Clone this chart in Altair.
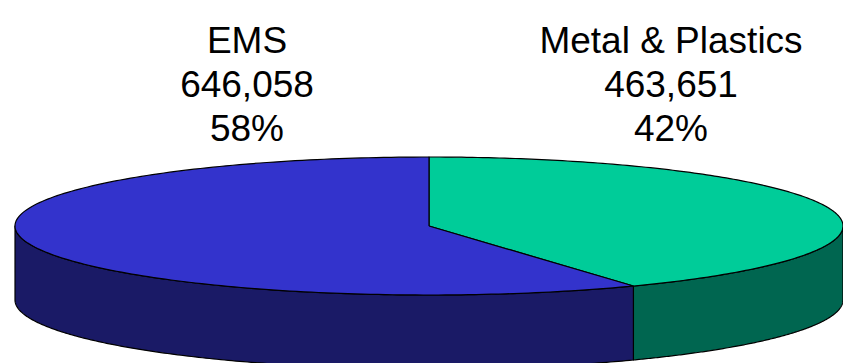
import json

import altair as alt
import pandas as pd

# Slices listed clockwise from 12 o'clock
CATEGORIES = ["Metal & Plastics", "EMS"]
VALUES = [463651, 646058]
TOP_COLORS = ["#00CC99", "#3333CC"]
SIDE_COLORS = ["#006650", "#1A1A66"]
LABEL_X = [671, 247]

# Canvas and projected-disc geometry (pixels)
W, H = 843, 363
CX, CY = 429, 226      # centre of the top face
RX, RY = 414, 69       # semi-axes of the tilted disc
DEPTH = 74             # thickness of the disc
N = 200                # samples along each arc

df = pd.DataFrame({"category": CATEGORIES, "value": VALUES,
                   "slot": list(range(len(CATEGORIES)))})

xs = alt.Scale(domain=[0, W], range=[0, W])
ys = alt.Scale(domain=[0, H], range=[0, H])

base = (
    alt.Chart(df)
    .transform_joinaggregate(total="sum(value)")
    .transform_window(cum="sum(value)", sort=[alt.SortField("slot")], frame=[None, 0])
    .transform_calculate(a0="2 * PI * (datum.cum - datum.value) / datum.total")
    .transform_calculate(a1="2 * PI * datum.cum / datum.total")
)

# Front walls: visible part of each slice between 3 and 9 o'clock
sides = (
    base
    .transform_calculate(s="max(datum.a0, PI / 2)")
    .transform_calculate(e="min(datum.a1, 3 * PI / 2)")
    .transform_filter("datum.s < datum.e")
    .transform_calculate(k=f"sequence(0, {2 * N + 3})")
    .transform_flatten(["k"])
    .transform_calculate(
        j=f"datum.k <= {N} ? datum.k : (datum.k <= {2 * N + 1} ? {2 * N + 1} - datum.k : 0)")
    .transform_calculate(low=f"datum.k > {N} && datum.k <= {2 * N + 1} ? 1 : 0")
    .transform_calculate(th=f"datum.s + (datum.e - datum.s) * datum.j / {N}")
    .transform_calculate(px=f"{CX} + {RX} * sin(datum.th)")
    .transform_calculate(py=f"{CY} - {RY} * cos(datum.th) + {DEPTH} * datum.low")
    .transform_calculate(col=f"{json.dumps(SIDE_COLORS)}[datum.slot]")
    .mark_line(stroke="black", strokeWidth=1.2, strokeJoin="round")
    .encode(
        x=alt.X("px:Q", scale=xs, axis=None),
        y=alt.Y("py:Q", scale=ys, axis=None),
        order="k:Q",
        detail="category:N",
        fill=alt.Fill("col:N", scale=None),
    )
)

# Top faces: centre -> arc -> centre
tops = (
    base
    .transform_calculate(k=f"sequence(-1, {N + 2})")
    .transform_flatten(["k"])
    .transform_calculate(edge=f"datum.k >= 0 && datum.k <= {N} ? 1 : 0")
    .transform_calculate(th=f"datum.a0 + (datum.a1 - datum.a0) * clamp(datum.k, 0, {N}) / {N}")
    .transform_calculate(px=f"{CX} + {RX} * sin(datum.th) * datum.edge")
    .transform_calculate(py=f"{CY} - {RY} * cos(datum.th) * datum.edge")
    .transform_calculate(col=f"{json.dumps(TOP_COLORS)}[datum.slot]")
    .mark_line(stroke="black", strokeWidth=1.2, strokeJoin="round")
    .encode(
        x=alt.X("px:Q", scale=xs, axis=None),
        y=alt.Y("py:Q", scale=ys, axis=None),
        order="k:Q",
        detail="category:N",
        fill=alt.Fill("col:N", scale=None),
    )
)

labels = (
    base
    .transform_calculate(
        label="datum.category + '\\n' + format(datum.value, ',') + '\\n' + format(datum.value / datum.total, '.0%')")
    .transform_calculate(lx=f"{json.dumps(LABEL_X)}[datum.slot]")
    .mark_text(font="Liberation Sans", fontSize=37, lineBreak="\n", lineHeight=44,
               baseline="alphabetic", align="center", color="black")
    .encode(
        x=alt.X("lx:Q", scale=xs, axis=None),
        y=alt.value(53),
        text="label:N",
    )
)

chart = (
    alt.layer(sides, tops, labels)
    .properties(width=W, height=H, padding=0, autosize="none")
    .configure_view(stroke=None)
)

chart.save("out.html", embed_options={"renderer": "svg", "actions": False})
